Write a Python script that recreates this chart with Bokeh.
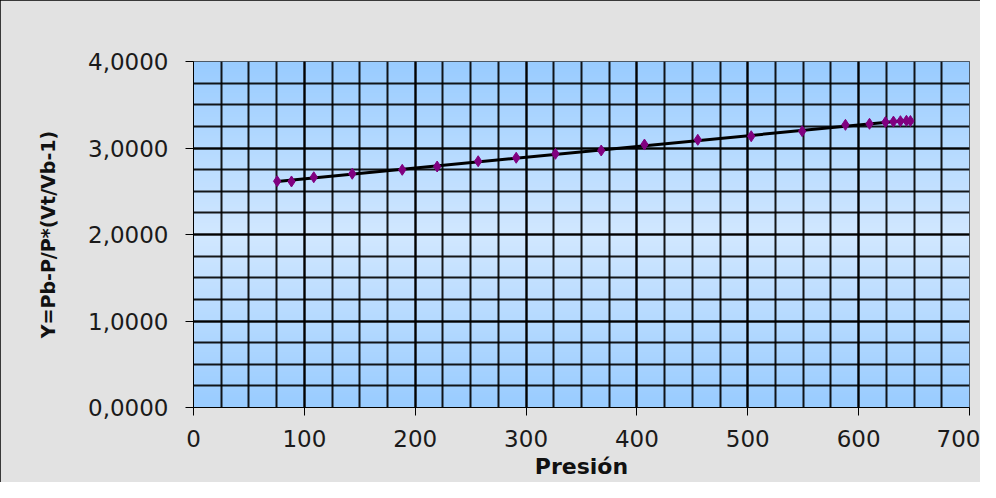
import numpy as np
from bokeh.plotting import figure
from bokeh.models import SingleIntervalTicker, CustomJSTickFormatter, Range1d
from bokeh.embed import file_html
from bokeh.resources import INLINE

# Data
presion = [75.5, 88.4, 108.5, 143.2, 188.3, 219.8, 256.8, 291.1, 326.5, 367.8,
           406.8, 454.9, 503.1, 549.1, 588.1, 609.8, 624.2, 631.4, 637.7, 643.1, 646.7]
y_vals = [2.616, 2.613, 2.662, 2.702, 2.748, 2.786, 2.847, 2.887, 2.933, 2.971,
          3.040, 3.095, 3.136, 3.194, 3.268, 3.280, 3.300, 3.305, 3.310, 3.315, 3.312]

x_label = "Presión"
y_label = "Y=Pb-P/P*(Vt/Vb-1)"

p = figure(width=980, height=482, output_backend="svg", toolbar_location=None,
           x_range=Range1d(0, 700), y_range=Range1d(0, 4),
           min_border_left=193, min_border_right=11, min_border_top=61, min_border_bottom=75)
p.styles = {"outline": "5px solid #000000", "outline-offset": "-5px"}

p.border_fill_color = "#e2e2e2"
p.background_fill_color = "#c0dcff"
p.outline_line_color = "#333333"
p.outline_line_width = 1

# gradient background (style only)
n = 200
t = np.linspace(0, 1, n)
d = np.abs(t - 0.5) * 2
dark = np.array([153, 204, 255])
light = np.array([210, 232, 255])
cols = (light[None, :] * (1 - d[:, None]) + dark[None, :] * d[:, None]).astype(np.uint32)
img = np.zeros((n, 1), dtype=np.uint32)
view = img.view(dtype=np.uint8).reshape((n, 1, 4))
view[:, 0, 0] = cols[:, 0]
view[:, 0, 1] = cols[:, 1]
view[:, 0, 2] = cols[:, 2]
view[:, 0, 3] = 255
p.image_rgba(image=[img], x=0, y=0, dw=700, dh=4, level="image")

# axes / ticks
p.xaxis.ticker = SingleIntervalTicker(interval=100, num_minor_ticks=4)
p.yaxis.ticker = SingleIntervalTicker(interval=1, num_minor_ticks=4)
p.yaxis.formatter = CustomJSTickFormatter(code="return tick.toFixed(4).replace('.', ',');")

for ax in (p.xaxis, p.yaxis):
    ax.axis_line_color = "#000000"
    ax.major_tick_line_color = "#000000"
    ax.major_tick_in = 0
    ax.major_tick_out = 8
    ax.minor_tick_line_color = None
    ax.major_label_text_font = "DejaVu Sans"
    ax.major_label_text_font_size = "23px"
    ax.major_label_text_color = "#1a1a1a"
    ax.axis_label_text_font = "DejaVu Sans"
    ax.axis_label_text_font_style = "bold"
    ax.axis_label_text_color = "#111111"

p.xaxis.axis_label = x_label
p.yaxis.axis_label = y_label
p.xaxis.axis_label_text_font_size = "22px"
p.yaxis.axis_label_text_font_size = "19px"
p.yaxis.major_label_standoff = 17
p.xaxis.major_label_standoff = 14
p.yaxis.axis_label_standoff = 26
p.xaxis.axis_label_standoff = 4

for g in (p.xgrid, p.ygrid):
    g.grid_line_color = "#000000"
    g.grid_line_width = 2
    g.grid_line_alpha = 0.9
    g.minor_grid_line_color = "#000000"
    g.minor_grid_line_width = 2
    g.minor_grid_line_alpha = 0.9

# trend line from data
coef = np.polyfit(presion, y_vals, 1)
xs = [min(presion), max(presion)]
ys = [coef[0] * v + coef[1] for v in xs]
p.line(xs, ys, line_color="#000000", line_width=3)

p.scatter(presion, y_vals, marker="diamond", size=11, fill_color="#800080",
          line_color="#800080")

open("out.html", "w").write(file_html(p, INLINE))
